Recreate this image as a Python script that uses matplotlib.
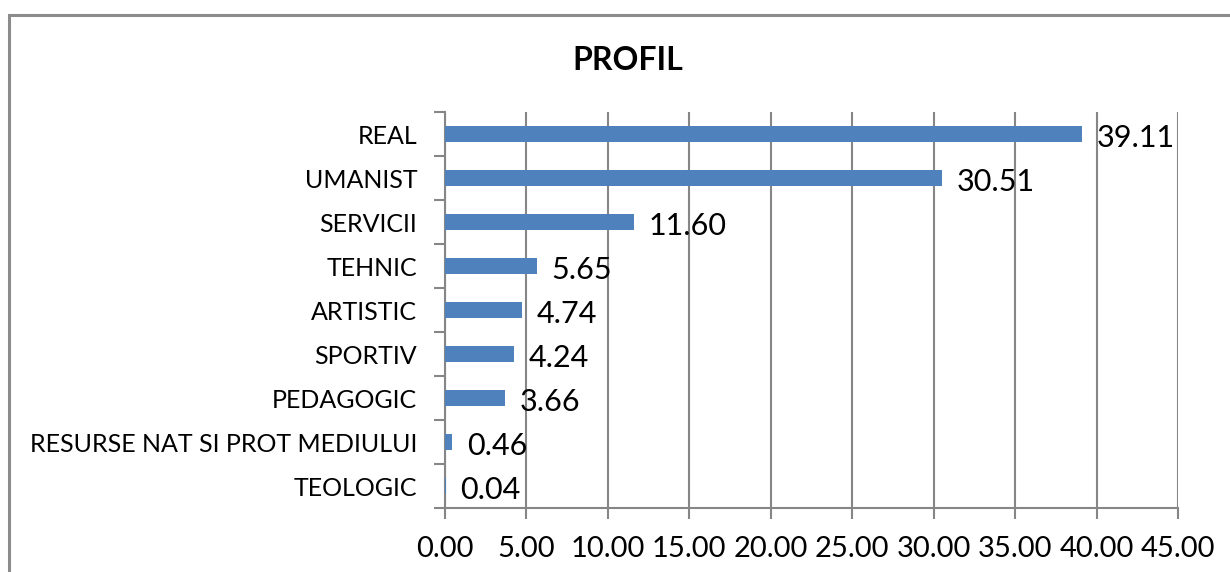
import matplotlib
matplotlib.use("Agg")
import matplotlib.pyplot as plt
from matplotlib.patches import Rectangle
import numpy as np

plt.rcParams["font.family"] = ["Lato", "DejaVu Sans"]

categories = ["REAL", "UMANIST", "SERVICII", "TEHNIC", "ARTISTIC", "SPORTIV",
              "PEDAGOGIC", "RESURSE NAT SI PROT MEDIULUI", "TEOLOGIC"]
values = [39.11, 30.51, 11.60, 5.65, 4.74, 4.24, 3.66, 0.46, 0.04]
xticks = [0, 5, 10, 15, 20, 25, 30, 35, 40, 45]

grid_col = "#868686"
bar_col = "#4f81bd"

fig = plt.figure(figsize=(12.3, 5.72), dpi=100)
ax = fig.add_axes([445 / 1230, 1 - 508 / 572, (1178 - 445) / 1230, (508 - 112) / 572])

# outer chart border (cropped on right/bottom like the original)
fig.patches.append(Rectangle((9 / 1230, -0.1), 1.2, 1 - 15 / 572 + 0.1,
                             transform=fig.transFigure, fill=False,
                             edgecolor="#8c8c8c", lw=2.2))

y = np.arange(len(categories))
ax.barh(y, values, height=0.37, color=bar_col, zorder=3)
for yi, v in zip(y, values):
    ax.text(v + 0.9, yi + 0.1, f"{v:.2f}", va="center", ha="left",
            fontsize=22, zorder=4)

ax.set_xlim(0, 45)
ax.set_ylim(len(categories) - 0.5, -0.5)
ax.set_xticks(xticks)
ax.set_xticklabels([f"{t:.2f}" for t in xticks], fontsize=21)
ax.set_yticks(y)
ax.set_yticklabels(categories, fontsize=18)
ax.set_yticks(np.arange(len(categories) + 1) - 0.5, minor=True)
ax.tick_params(axis="y", which="major", length=0, pad=20)
ax.tick_params(axis="y", which="minor", length=8, color=grid_col, width=1.5)
ax.tick_params(axis="x", length=8, color=grid_col, width=1.5, pad=12)

ax.grid(axis="x", color=grid_col, lw=1.5, zorder=0)
for s in ("top", "right"):
    ax.spines[s].set_visible(False)
for s in ("left", "bottom"):
    ax.spines[s].set_color(grid_col)
    ax.spines[s].set_linewidth(1.5)

fig.text(628 / 1230, 1 - 60 / 572, "PROFIL", ha="center", va="center",
         fontsize=23, fontweight="bold")

fig.savefig("out.png", dpi=100)
